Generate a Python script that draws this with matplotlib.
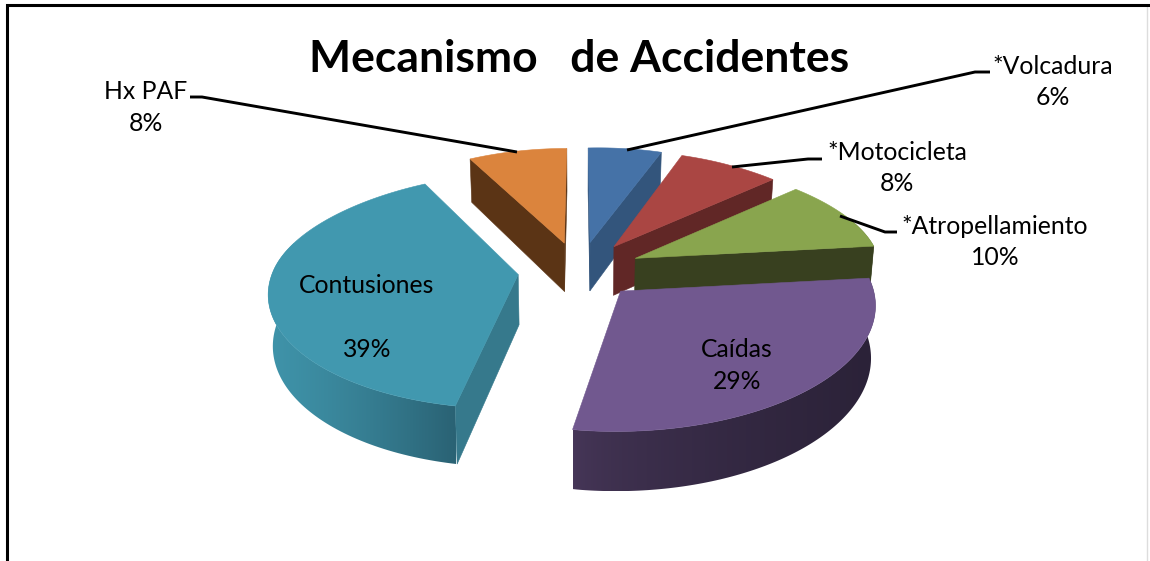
import numpy as np
import matplotlib
matplotlib.use("Agg")
import matplotlib.pyplot as plt
from matplotlib.colors import to_rgb
from matplotlib.patches import Polygon

categories = ['*Volcadura', '*Motocicleta', '*Atropellamiento', 'Caídas', 'Contusiones', 'Hx PAF']
values = [6, 8, 10, 29, 39, 8]

top_colors = ['#4572a7', '#aa4643', '#89a54e', '#71588f', '#4198af', '#db843d']
cut_colors = ['#33557c', '#612726', '#38401f', '#46365a', '#36798c', '#5b3415']
wall_left = ['#33557c', '#612726', '#38401f', '#473759', '#3f93a9', '#5b3415']
wall_right = ['#33557c', '#612726', '#38401f', '#2b2238', '#2a6274', '#5b3415']
wall_power = [1, 1, 1, 0.6, 1.3, 1]

# painter order, far slices first
draw_order = [5, 0, 1, 2, 4, 3]

# projection of the tilted pie, in pixels
CX, CY = 579, 270
RX, RY = 245, 114.5
PERSP = 0.137
PERSP_FAR_X = 0.2
EXPLODE = 0.25
DEPTH = 50
TILT = 0.022
LOW_INSET = 0.015


def project(u, v, low=False):
    u = np.asarray(u, dtype=float)
    v = np.asarray(v, dtype=float)
    s = 1 / (1 + PERSP * v)
    # far side narrows a bit faster in x, blended in so the rim has no kink
    kx = PERSP + (PERSP_FAR_X - PERSP) * np.clip(v, 0, 1)
    x = CX + RX * u / (1 + kx * v)
    y = CY - RY * v * s - TILT * np.clip(x - CX, 0, None)
    if low:
        y = y + DEPTH * s
        x = x - LOW_INSET * (x - CX)
    return x, y


def cut_visible(apex, rim, middle):
    # a cut face shows when the top of the slice sits above its edge
    dx = rim[0] - apex[0]
    if abs(dx) < 1e-6:
        return False
    edge_y = apex[1] + (rim[1] - apex[1]) * (middle[0] - apex[0]) / dx
    return middle[1] < edge_y


def draw_wall(ax, i, top_x, top_y, low_x, low_y, z):
    x0, x1 = top_x.min(), top_x.max()
    y0, y1 = top_y.min(), low_y.max()
    t = np.linspace(0, 1, 256) ** wall_power[i]
    c1 = np.array(to_rgb(wall_left[i]))
    c2 = np.array(to_rgb(wall_right[i]))
    grad = (c1 + (c2 - c1) * t[:, None])[None, :, :]
    img = ax.imshow(grad, extent=(x0, x1, y1, y0), aspect='auto', interpolation='bilinear', zorder=z)
    outline = np.column_stack([np.r_[top_x, low_x[::-1]], np.r_[top_y, low_y[::-1]]])
    clip = Polygon(outline, closed=True, transform=ax.transData)
    img.set_clip_path(clip)


def draw_slice(ax, i, start, stop, z):
    mid = (start + stop) / 2
    ou = EXPLODE * np.sin(mid)
    ov = EXPLODE * np.cos(mid)
    angles = np.linspace(start, stop, 120)
    rim_u = ou + np.sin(angles)
    rim_v = ov + np.cos(angles)

    top_x, top_y = project(rim_u, rim_v)
    low_x, low_y = project(rim_u, rim_v, low=True)
    # runs a little past the side of the pie, the top face covers the extra part
    front = np.cos(angles) < 0.3
    if front.sum() > 1:
        draw_wall(ax, i, top_x[front], top_y[front], low_x[front], low_y[front], z)

    # cut faces
    apex = tuple(float(a) for a in project(ou, ov))
    apex_low = tuple(float(a) for a in project(ou, ov, low=True))
    outline = np.column_stack([np.r_[apex[0], top_x], np.r_[apex[1], top_y]])
    middle = outline.mean(axis=0)
    for k in (0, -1):
        rim = (top_x[k], top_y[k])
        if cut_visible(apex, rim, middle):
            face = [apex, rim, (low_x[k], low_y[k]), apex_low]
            ax.add_patch(Polygon(face, closed=True, fc=cut_colors[i], ec=cut_colors[i], lw=0.4, zorder=z + 0.1))

    ax.add_patch(Polygon(outline, closed=True, fc=top_colors[i], ec=top_colors[i], lw=0.4, zorder=z + 0.2))


fig = plt.figure(figsize=(11.5, 5.61), dpi=100)
ax = fig.add_axes([0, 0, 1, 1])
ax.axis('off')

plt.rcParams['font.family'] = ['Lato', 'DejaVu Sans']

edges = np.radians(np.r_[0, np.cumsum(values)] * 3.6)
for n, i in enumerate(draw_order):
    draw_slice(ax, i, edges[i], edges[i + 1], n + 1)

ax.set_xlim(0, 1150)
ax.set_ylim(561, 0)

# chart frame
ax.plot([7, 7, 1150], [561, 5, 5], color='black', lw=2.2, solid_joinstyle='miter', zorder=10)
ax.plot([1147, 1147], [6, 561], color='#dddddd', lw=1, zorder=9)

ax.text(579, 59, 'Mecanismo   de Accidentes', fontsize=32, fontweight='bold',
        ha='center', va='center', zorder=11)

# label positions in pixels: name, percent
label_pos = [(1053, 66, 97), (897, 152, 183), (995, 226, 257),
             (737, 349, 381), (367, 285, 349), (146, 91, 123)]
for name, val, (x, y1, y2) in zip(categories, values, label_pos):
    ax.text(x, y1, name, fontsize=17.8, ha='center', va='center', zorder=11)
    ax.text(x, y2, f'{val}%', fontsize=17.8, ha='center', va='center', zorder=11)

leaders = [
    ([990, 975, 627], [72, 72, 150]),
    ([822, 808, 732], [159, 159, 167]),
    ([897, 885, 840], [232, 232, 216]),
    ([190, 202, 517], [97, 97, 152]),
]
for xs, ys in leaders:
    ax.plot(xs, ys, color='black', lw=2.1, solid_capstyle='butt', zorder=10)

fig.savefig('out.png', dpi=100)
